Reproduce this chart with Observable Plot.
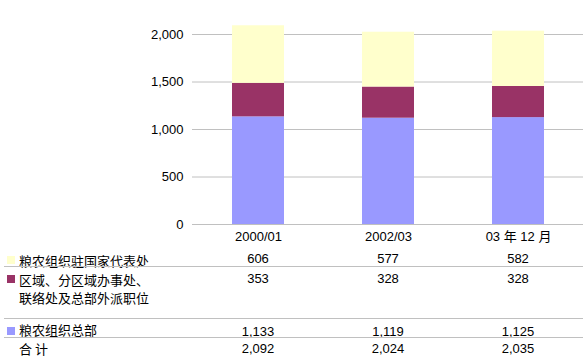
<!DOCTYPE html>
<html><head><meta charset="utf-8">
<script src="https://cdn.jsdelivr.net/npm/d3@7"></script>
<script src="https://cdn.jsdelivr.net/npm/@observablehq/plot@0.6"></script>
<style>
body{margin:0;background:#fff;}
#wrap{position:relative;width:583px;height:359px;overflow:hidden;font-family:"Liberation Sans",Arial,"Noto Sans CJK SC",sans-serif;color:#000;}
#wrap svg{position:absolute;left:0;top:0;}
.lbl{position:absolute;font-family:"Noto Sans CJK SC",sans-serif;font-size:13px;line-height:15px;white-space:nowrap;}
.num{position:absolute;font-size:13px;line-height:15px;white-space:nowrap;transform:translateX(-50%);}
.sw{position:absolute;width:8px;height:8px;}
.hr{position:absolute;left:4px;right:0;height:0;border-top:1px solid #c0c0c0;}
</style></head><body><div id="wrap"></div>
<script>
// ---- data ----
const periods = ["2000/01", "2002/03", "03 年 12 月"];
const seriesNames = ["粮农组织驻国家代表处", "区域、分区域办事处、联络处及总部外派职位", "粮农组织总部"];
const seriesLabelLines = [["粮农组织驻国家代表处"], ["区域、分区域办事处、", "联络处及总部外派职位"], ["粮农组织总部"]];
const countryOffices = [606, 577, 582];
const regionalOffices = [353, 328, 328];
const headquarters = [1133, 1119, 1125];
const totals = [2092, 2024, 2035];
const totalLabel = "合 计";
const seriesColors = ["#ffffcc", "#993366", "#9999ff"];
const yTicks = [0, 500, 1000, 1500, 2000];

const seriesValues = [countryOffices, regionalOffices, headquarters];
// stack bottom-first: headquarters, regional, country
const rows = [];
[2, 1, 0].forEach(s => periods.forEach((p, i) => rows.push({period: p, series: seriesNames[s], value: seriesValues[s][i]})));

const fmt = d3.format(",");
const chart = Plot.plot({
  width: 583, height: 245,
  marginLeft: 192, marginRight: 0, marginTop: 34, marginBottom: 21,
  style: {fontFamily: '"Liberation Sans", Arial, "Noto Sans CJK SC", sans-serif', fontSize: "13px", color: "#000", background: "transparent", overflow: "visible"},
  x: {domain: periods, paddingInner: 0.6, paddingOuter: 0.3},
  y: {domain: [0, 2000]},
  color: {domain: seriesNames, range: seriesColors},
  marks: [
    Plot.ruleY(yTicks, {stroke: "#c0c0c0", strokeWidth: 1, strokeOpacity: 1}),
    Plot.barY(rows, {x: "period", y: "value", fill: "series", order: [seriesNames[2], seriesNames[1], seriesNames[0]]}),
    Plot.axisX({tickSize: 0, tickPadding: 7, label: null, fontSize: 13}),
    Plot.axisY({ticks: yTicks, tickFormat: fmt, tickSize: 0, tickPadding: 9, label: null, fontSize: 13})
  ]
});
const wrap = document.getElementById("wrap");
wrap.appendChild(chart);

// ---- table below the chart ----
const xs = chart.scale("x");
const cx = p => xs.apply(p) + xs.bandwidth / 2;
const add = (cls, css, text) => { const d = document.createElement("div"); d.className = cls; Object.assign(d.style, css); if (text != null) d.textContent = text; wrap.appendChild(d); return d; };

const labelTops = [252.5, 271.5, 322];   // layout: top of each series label
const swatchTops = [256, 274.5, 326.5];
const numTops = [251, 271, 323.5];
seriesNames.forEach((name, s) => {
  add("sw", {left: "7px", top: swatchTops[s] + "px", background: seriesColors[s]});
  seriesLabelLines[s].forEach((line, k) => add("lbl", {left: "19px", top: (labelTops[s] + k * 18.7) + "px"}, line));
  periods.forEach((p, i) => add("num", {left: cx(p) + "px", top: numTops[s] + "px"}, fmt(seriesValues[s][i])));
});
add("lbl", {left: "19px", top: "341px"}, totalLabel);
periods.forEach((p, i) => add("num", {left: cx(p) + "px", top: "341px"}, fmt(totals[i])));
[266, 318, 337].forEach(t => add("hr", {top: t + "px"}));
</script></body></html>
